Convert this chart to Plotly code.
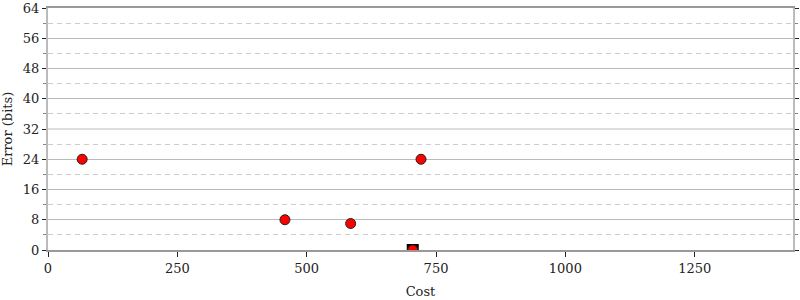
import plotly.graph_objects as go

# Data
point_cost = [66, 458, 585, 721, 705]
point_error = [24, 8, 7, 24, 0]
best_cost = [705]
best_error = [0]
y_ticks = [0, 8, 16, 24, 32, 40, 48, 56, 64]
x_ticks = [0, 250, 500, 750, 1000, 1250]
highlight_y = 32

FONT = "DejaVu Serif"

fig = go.Figure()
fig.add_trace(go.Scatter(
    x=best_cost, y=best_error, mode="markers",
    marker=dict(symbol="square", size=12, color="black"),
    showlegend=False, hoverinfo="skip"))
fig.add_trace(go.Scatter(
    x=point_cost, y=point_error, mode="markers",
    marker=dict(symbol="circle", size=10, color="#ff0000",
                line=dict(color="#222", width=1)),
    showlegend=False))

fig.add_shape(type="line", xref="paper", x0=0, x1=1, yref="y",
              y0=highlight_y, y1=highlight_y,
              line=dict(color="#dddddd", width=2), layer="above")

fig.update_layout(
    width=800, height=300,
    margin=dict(l=48, r=7, t=8, b=50, autoexpand=False),
    paper_bgcolor="white", plot_bgcolor="white",
    font=dict(family=FONT, size=13, color="#222"),
    xaxis=dict(
        range=[0, 1440], tickvals=x_ticks, ticktext=[str(v) for v in x_ticks],
        showgrid=False, zeroline=False, automargin=False,
        showline=True, linecolor="#999999", linewidth=2, mirror=True,
        ticks="outside", ticklen=5, tickcolor="#222", tickwidth=1,
        title=dict(text="Cost", font=dict(family=FONT, size=13), standoff=12),
    ),
    yaxis=dict(
        range=[0, 64], tickvals=y_ticks, ticktext=[str(v) for v in y_ticks],
        showgrid=True, gridcolor="#bbbbbb", gridwidth=1,
        zeroline=False, automargin=False,
        showline=True, linecolor="#bbbbbb", linewidth=2, mirror="ticks",
        ticks="outside", ticklen=4, tickcolor="#222", tickwidth=1,
        minor=dict(tick0=4, dtick=8, ticks="outside", ticklen=3,
                   tickcolor="#888", showgrid=True, gridcolor="#cccccc",
                   griddash="5px,4px", gridwidth=1),
        title=dict(text="Error (bits)", font=dict(family=FONT, size=13), standoff=10),
    ),
)

fig.write_html("out.html")
